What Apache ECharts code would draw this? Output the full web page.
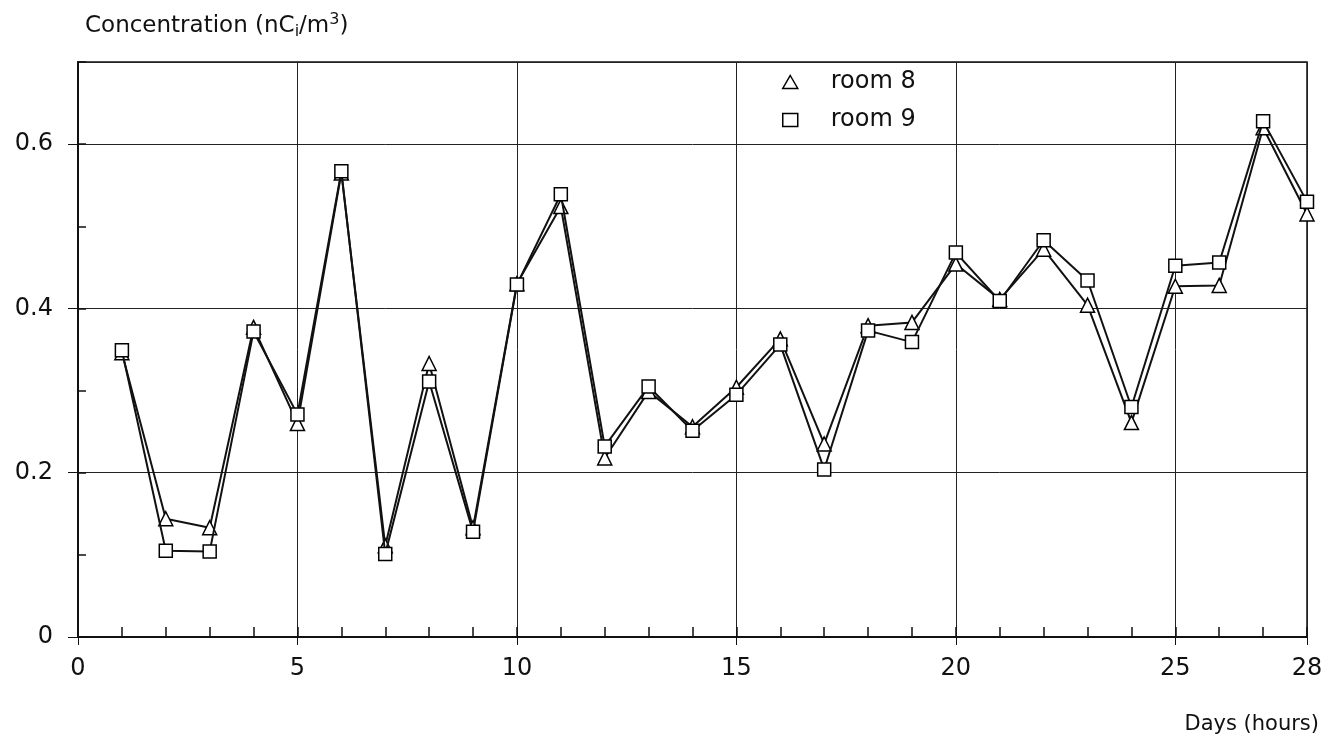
<!DOCTYPE html>
<html>
<head>
<meta charset="utf-8">
<script src="https://cdn.jsdelivr.net/npm/echarts@6/dist/echarts.min.js"></script>
<style>
html,body{margin:0;padding:0;background:#fff;}
#chart{width:1336px;height:748px;}
</style>
</head>
<body>
<div id="chart"></div>
<script>
var days = [1,2,3,4,5,6,7,8,9,10,11,12,13,14,15,16,17,18,19,20,21,22,23,24,25,26,27,28];
var room8 = [0.346,0.144,0.133,0.377,0.260,0.565,0.111,0.333,0.133,0.430,0.524,0.218,0.299,0.256,0.304,0.363,0.235,0.379,0.383,0.454,0.411,0.472,0.404,0.261,0.427,0.428,0.620,0.515];
var room9 = [0.349,0.105,0.104,0.372,0.271,0.567,0.101,0.311,0.128,0.429,0.539,0.232,0.305,0.251,0.295,0.356,0.204,0.373,0.359,0.468,0.409,0.483,0.434,0.280,0.452,0.456,0.628,0.530];
var seriesNames = ['room 8','room 9'];
var yTitle = 'Concentration (nC{sub|i}/m{sup|3})';
var xTitle = 'Days (hours)';

function pairs(xs, ys){ return xs.map(function(x,i){ return [x, ys[i]]; }); }

var FONT = 'DejaVu Sans';
var chart = echarts.init(document.getElementById('chart'), null, {renderer:'canvas'});
chart.setOption({
  backgroundColor:'#fff',
  animation:false,
  title:[
    {text:yTitle, left:80, top:7,
     textStyle:{fontFamily:FONT, fontSize:23, fontWeight:'normal', color:'#111',
       rich:{sub:{fontFamily:FONT, fontSize:16, color:'#111', padding:[10,0,0,0]},
             sup:{fontFamily:FONT, fontSize:16, color:'#111', padding:[0,0,13,0]}}}},
    {text:xTitle, right:12, top:709,
     textStyle:{fontFamily:FONT, fontSize:21, fontWeight:'normal', color:'#111'}}
  ],
  legend:{
    orient:'vertical', left:777, top:65, itemGap:14,
    itemWidth:15, itemHeight:13,
    textStyle:{fontFamily:FONT, fontSize:24, color:'#111', padding:[0,0,0,28]},
    data:[
      {name:seriesNames[0], icon:'triangle', itemStyle:{color:'#fff', borderColor:'#000', borderWidth:1.5}},
      {name:seriesNames[1], icon:'rect', itemStyle:{color:'#fff', borderColor:'#000', borderWidth:1.5}}
    ]
  },
  grid:{left:78, right:29, top:62, bottom:111, show:true, borderColor:'#111', borderWidth:1.5, containLabel:false},
  xAxis:[
    {type:'value', min:0, max:28, interval:5, position:'bottom',
     axisLine:{show:true, lineStyle:{color:'#111', width:2}},
     axisTick:{show:true, inside:false, length:8, lineStyle:{color:'#111'}},
     axisLabel:{fontFamily:FONT, fontSize:24, color:'#111', margin:20, showMaxLabel:true},
     splitLine:{show:true, lineStyle:{color:'#222', width:1}}},
    {type:'value', min:0, max:28, interval:1, position:'bottom',
     axisLine:{show:false},
     axisTick:{show:true, inside:true, length:10, lineStyle:{color:'#111', width:1.5}},
     axisLabel:{show:false}, splitLine:{show:false}}
  ],
  yAxis:[
    {type:'value', min:0, max:0.7, interval:0.2, position:'left',
     axisLine:{show:true, lineStyle:{color:'#111', width:2}},
     axisTick:{show:true, inside:false, length:10, lineStyle:{color:'#111'}},
     axisLabel:{fontFamily:FONT, fontSize:24, color:'#111', margin:25, showMaxLabel:false},
     splitLine:{show:true, lineStyle:{color:'#222', width:1}}},
    {type:'value', min:0, max:0.7, interval:0.1, position:'left', offset:0,
     axisLine:{show:false},
     axisTick:{show:true, inside:true, length:8, lineStyle:{color:'#111', width:1.5}},
     axisLabel:{show:false}, splitLine:{show:false}}
  ],
  series:[
    {name:seriesNames[0], type:'line', xAxisIndex:0, yAxisIndex:0,
     data:pairs(days, room8), symbol:'triangle', symbolSize:14,
     lineStyle:{color:'#111', width:2},
     itemStyle:{color:'#fff', borderColor:'#000', borderWidth:1.5}, z:3},
    {name:seriesNames[1], type:'line', xAxisIndex:0, yAxisIndex:0,
     data:pairs(days, room9), symbol:'rect', symbolSize:13,
     lineStyle:{color:'#111', width:2},
     itemStyle:{color:'#fff', borderColor:'#000', borderWidth:1.5}, z:4}
  ]
});
</script>
</body>
</html>
